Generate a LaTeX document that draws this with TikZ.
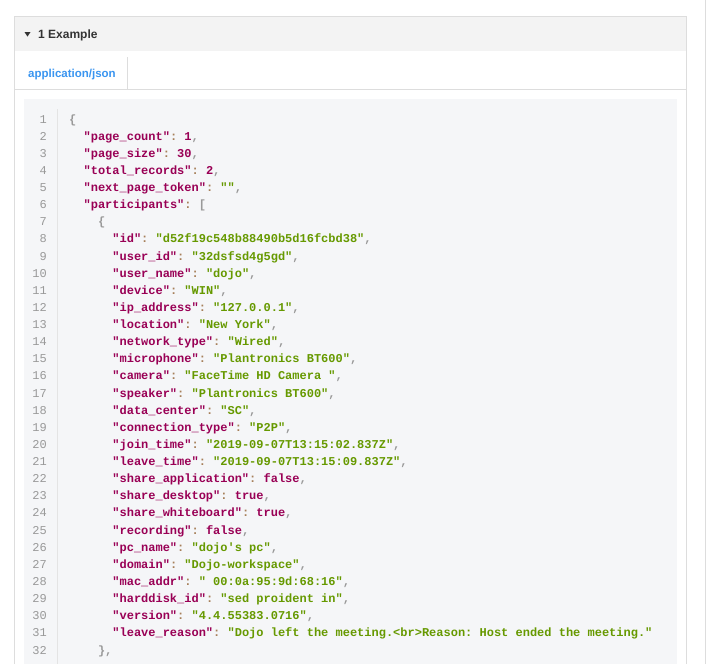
\documentclass[tikz,border=0pt]{standalone}
\usepackage{fontspec}
\setmonofont{Liberation Mono}
\newfontfamily\uifont{Liberation Sans}
\definecolor{keyc}{HTML}{990055}
\definecolor{strc}{HTML}{669900}
\definecolor{punc}{HTML}{999999}
\definecolor{opc}{HTML}{A67F59}
\definecolor{lnc}{HTML}{999999}
\definecolor{bordc}{HTML}{DDDDDD}
\definecolor{sepc}{HTML}{E4E4E4}
\definecolor{headc}{HTML}{F3F3F3}
\definecolor{codebg}{HTML}{F5F6F8}
\definecolor{tabc}{HTML}{3A95F0}
\definecolor{txtc}{HTML}{333333}
\newcommand\Kk[1]{\textcolor{keyc}{"#1"}}
\newcommand\Ss[1]{\textcolor{strc}{"#1"}}
\newcommand\Vv[1]{\textcolor{keyc}{#1}}
\newcommand\Co{\textcolor{opc}{:}}
\newcommand\Cm{\textcolor{punc}{,}}
\newcommand\Pp[1]{\textcolor{punc}{#1}}
\begin{document}
\begin{tikzpicture}[x=1pt,y=-1pt,
  codeline/.style={anchor=base west,inner sep=0pt,font=\ttfamily\bfseries\fontsize{12}{14}\selectfont},
  lnum/.style={anchor=base east,inner sep=0pt,text=lnc,font=\ttfamily\fontsize{12}{14}\selectfont},
  bord/.style={draw=bordc,line width=1pt}]
\useasboundingbox (0,0) rectangle (716,664);
% outer frame
\fill[white] (14.5,16.5) rectangle (686.5,664);
\fill[headc] (14.5,16.5) rectangle (686.5,51);
\draw[bord] (14.5,664) -- (14.5,16.5) -- (686.5,16.5) -- (686.5,664);
\draw[bord] (14.5,89.5) -- (686.5,89.5);
\draw[bord] (127.5,57) -- (127.5,89.5);
\draw[bord] (705.5,0) -- (705.5,664);
% header
\fill[txtc] (24.5,32) -- (30.5,32) -- (27.5,36.5) -- cycle;
\node[anchor=base west,inner sep=0pt,text=txtc,font=\uifont\bfseries\fontsize{12}{14}\selectfont] (hdr) at (38,38.5) {1 Example};
\node[anchor=base west,inner sep=0pt,text=tabc,font=\uifont\bfseries\fontsize{11.5}{14}\selectfont] (tab) at (28,77) {application/json};
% code area
\fill[codebg] (24,99) rectangle (677,664);
\draw[draw=sepc,line width=1pt] (57.5,109) -- (57.5,664);
\foreach \i in {1,...,32} \node[lnum] (n\i) at (47,{123+(\i-1)*17.13}) {\i};
\def\ya{123}\def\dy{17.13}
\node[codeline] (c1) at (69,{\ya+0*\dy}) {\Pp{\{}};
\node[codeline] (c2) at (83.4,{\ya+1*\dy}) {\Kk{page\_count}\Co\ \Vv{1}\Cm};
\node[codeline] (c3) at (83.4,{\ya+2*\dy}) {\Kk{page\_size}\Co\ \Vv{30}\Cm};
\node[codeline] (c4) at (83.4,{\ya+3*\dy}) {\Kk{total\_records}\Co\ \Vv{2}\Cm};
\node[codeline] (c5) at (83.4,{\ya+4*\dy}) {\Kk{next\_page\_token}\Co\ \Ss{}\Cm};
\node[codeline] (c6) at (83.4,{\ya+5*\dy}) {\Kk{participants}\Co\ \Pp{[}};
\node[codeline] (c7) at (97.8,{\ya+6*\dy}) {\Pp{\{}};
\node[codeline] (c8) at (112.2,{\ya+7*\dy}) {\Kk{id}\Co\ \Ss{d52f19c548b88490b5d16fcbd38}\Cm};
\node[codeline] (c9) at (112.2,{\ya+8*\dy}) {\Kk{user\_id}\Co\ \Ss{32dsfsd4g5gd}\Cm};
\node[codeline] (c10) at (112.2,{\ya+9*\dy}) {\Kk{user\_name}\Co\ \Ss{dojo}\Cm};
\node[codeline] (c11) at (112.2,{\ya+10*\dy}) {\Kk{device}\Co\ \Ss{WIN}\Cm};
\node[codeline] (c12) at (112.2,{\ya+11*\dy}) {\Kk{ip\_address}\Co\ \Ss{127.0.0.1}\Cm};
\node[codeline] (c13) at (112.2,{\ya+12*\dy}) {\Kk{location}\Co\ \Ss{New York}\Cm};
\node[codeline] (c14) at (112.2,{\ya+13*\dy}) {\Kk{network\_type}\Co\ \Ss{Wired}\Cm};
\node[codeline] (c15) at (112.2,{\ya+14*\dy}) {\Kk{microphone}\Co\ \Ss{Plantronics BT600}\Cm};
\node[codeline] (c16) at (112.2,{\ya+15*\dy}) {\Kk{camera}\Co\ \Ss{FaceTime HD Camera\ }\Cm};
\node[codeline] (c17) at (112.2,{\ya+16*\dy}) {\Kk{speaker}\Co\ \Ss{Plantronics BT600}\Cm};
\node[codeline] (c18) at (112.2,{\ya+17*\dy}) {\Kk{data\_center}\Co\ \Ss{SC}\Cm};
\node[codeline] (c19) at (112.2,{\ya+18*\dy}) {\Kk{connection\_type}\Co\ \Ss{P2P}\Cm};
\node[codeline] (c20) at (112.2,{\ya+19*\dy}) {\Kk{join\_time}\Co\ \Ss{2019-09-07T13:15:02.837Z}\Cm};
\node[codeline] (c21) at (112.2,{\ya+20*\dy}) {\Kk{leave\_time}\Co\ \Ss{2019-09-07T13:15:09.837Z}\Cm};
\node[codeline] (c22) at (112.2,{\ya+21*\dy}) {\Kk{share\_application}\Co\ \Vv{false}\Cm};
\node[codeline] (c23) at (112.2,{\ya+22*\dy}) {\Kk{share\_desktop}\Co\ \Vv{true}\Cm};
\node[codeline] (c24) at (112.2,{\ya+23*\dy}) {\Kk{share\_whiteboard}\Co\ \Vv{true}\Cm};
\node[codeline] (c25) at (112.2,{\ya+24*\dy}) {\Kk{recording}\Co\ \Vv{false}\Cm};
\node[codeline] (c26) at (112.2,{\ya+25*\dy}) {\Kk{pc\_name}\Co\ \Ss{dojo's pc}\Cm};
\node[codeline] (c27) at (112.2,{\ya+26*\dy}) {\Kk{domain}\Co\ \Ss{Dojo-workspace}\Cm};
\node[codeline] (c28) at (112.2,{\ya+27*\dy}) {\Kk{mac\_addr}\Co\ \Ss{\ 00:0a:95:9d:68:16}\Cm};
\node[codeline] (c29) at (112.2,{\ya+28*\dy}) {\Kk{harddisk\_id}\Co\ \Ss{sed proident in}\Cm};
\node[codeline] (c30) at (112.2,{\ya+29*\dy}) {\Kk{version}\Co\ \Ss{4.4.55383.0716}\Cm};
\node[codeline] (c31) at (112.2,{\ya+30*\dy}) {\Kk{leave\_reason}\Co\ \Ss{Dojo left the meeting.<br>Reason: Host ended the meeting.}};
\node[codeline] (c32) at (97.8,{\ya+31*\dy}) {\Pp{\}}\Cm};
\end{tikzpicture}
\end{document}
